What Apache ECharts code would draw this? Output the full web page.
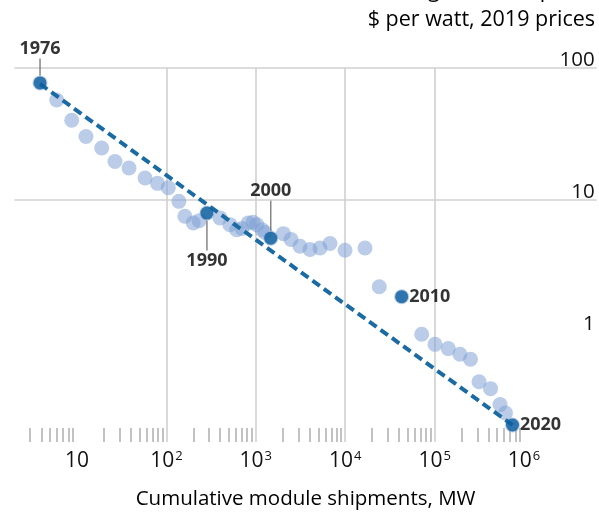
<!DOCTYPE html>
<html><head><meta charset="utf-8">
<script src="https://cdn.jsdelivr.net/npm/echarts@6/dist/echarts.min.js"></script>
<style>html,body{margin:0;padding:0;background:#fff}#c{width:599px;height:514px}</style>
</head><body><div id="c"></div>
<script>
// ---- data ----
const years = [1976,1977,1978,1979,1980,1981,1982,1983,1984,1985,1986,1987,1988,1989,1990,
  1991,1992,1993,1994,1995,1996,1997,1998,1999,2000,2001,2002,2003,2004,2005,2006,2007,2008,2009,2010,
  2011,2012,2013,2014,2015,2016,2017,2018,2019,2020];
const shipmentsMW = [3.86,5.93,8.73,12.6,18.9,26.6,38.2,57.7,79.5,105,138,161,200,232,284,
  398,514,611,701,824,930,1024,1173,1268,1469,2033,2478,3119,4036,5224,6761,9950,16650,24050,42800,
  71700,101000,142000,192000,252000,314000,422000,539000,621000,743000];
const pricesUSDperW = [77.1,57.3,40.2,30.3,24.8,19.6,17.5,14.7,13.4,12.4,9.8,7.55,6.73,7.0,7.98,
  7.34,6.53,5.98,6.1,6.73,6.82,6.53,5.98,5.69,5.16,5.58,5.04,4.48,4.23,4.35,4.70,4.18,4.35,2.21,1.86,
  0.966,0.811,0.753,0.682,0.625,0.423,0.375,0.284,0.245,0.199];
const highlightYears = [1976,1990,2000,2010,2020];
const trendShipmentsMW = [3.86, 743000];
const trendPricesUSDperW = [75.7, 0.199];
const xMajorTicks = [10,100,1000,10000,100000,1000000];
const xMinorMultipliers = [2,3,4,5,6,7,8,9];
const xMinorDecades = [1,10,100,1000,10000,100000];
const yMajorTicks = [1,10,100];
const titleLine1 = 'Average module price,';
const titleLine2 = '$ per watt, 2019 prices';
const xAxisTitle = 'Cumulative module shipments, MW';

// ---- build ----
const xMinorTicks = [];
xMinorDecades.forEach(d => xMinorMultipliers.forEach(m => { if (m * d >= 3) xMinorTicks.push(m * d); }));

const FONT = '"Open Sans", "Noto Sans", sans-serif';
const X_MIN = 2, X_MAX = 6.5e6, Y_MIN = 0.148, Y_MAX = 100;
const GRID = {left: 14.5, right: 2.3, top: 68, bottom: 72, containLabel: false, outerBoundsMode: 'none'};

const labelCfg = {
  1976: {fmt: '{t|1976}\n{s|}', position: 'top'},
  1990: {fmt: '{m|}\n{t|1990}', position: 'bottom'},
  2000: {fmt: '{t|2000}\n{m|}', position: 'top'},
  2010: {fmt: '{t|2010}', position: 'right'},
  2020: {fmt: '{t|2020}', position: 'right'}
};

const lightData = years.map((y, i) => [shipmentsMW[i], pricesUSDperW[i]]);
const hiData = highlightYears.map(yr => {
  const i = years.indexOf(yr);
  const c = labelCfg[yr];
  return {
    value: [shipmentsMW[i], pricesUSDperW[i]],
    label: {show: true, position: c.position, distance: 1, formatter: c.fmt}
  };
});
const trendData = trendShipmentsMW.map((x, i) => [x, trendPricesUSDperW[i]]);

const chart = echarts.init(document.getElementById('c'), null, {renderer: 'canvas'});
chart.setOption({
  animation: false,
  backgroundColor: '#fff',
  grid: [Object.assign({}, GRID), Object.assign({}, GRID)],
  graphic: [
    {type: 'text', x: 595, y: -8.8, silent: true,
     style: {text: titleLine1, font: '21.5px ' + FONT, fill: '#000', align: 'right', verticalAlign: 'middle'}},
    {type: 'text', x: 595, y: 20.2, silent: true,
     style: {text: titleLine2, font: '21.5px ' + FONT, fill: '#000', align: 'right', verticalAlign: 'middle'}}
  ],
  xAxis: [
    {
      type: 'log', logBase: 10, gridIndex: 0, min: X_MIN, max: X_MAX, position: 'bottom',
      axisLine: {show: false},
      axisTick: {show: false, customValues: xMajorTicks},
      splitLine: {show: true, showMinLine: false, showMaxLine: false, lineStyle: {color: '#d0d0d0', width: 1.6}},
      axisLabel: {
        show: true, customValues: xMajorTicks, margin: 8,
        formatter: v => { const k = Math.round(Math.log10(v)); return k === 1 ? '{b|10}' : '{b|10}{s|' + k + '}'; },
        rich: {
          b: {fontFamily: FONT, fontSize: 21, color: '#111', lineHeight: 22},
          s: {fontFamily: FONT, fontSize: 13, color: '#111', lineHeight: 14, verticalAlign: 'top', padding: [0, 0, 0, 1]}
        }
      },
      name: xAxisTitle, nameLocation: 'middle', nameGap: 47,
      nameTextStyle: {fontFamily: FONT, fontSize: 20.5, color: '#000'}
    },
    {
      type: 'log', logBase: 10, gridIndex: 1, min: X_MIN, max: X_MAX, position: 'bottom',
      axisLine: {show: false},
      axisTick: {show: true, inside: true, length: 14, customValues: xMinorTicks, lineStyle: {color: '#bcbcbc', width: 1.8}},
      axisLabel: {show: false},
      splitLine: {show: false}
    }
  ],
  yAxis: [
    {
      type: 'log', logBase: 10, gridIndex: 0, min: Y_MIN, max: Y_MAX, position: 'right',
      axisLine: {show: false},
      axisTick: {show: false, customValues: yMajorTicks},
      splitLine: {show: true, showMinLine: false, lineStyle: {color: '#d0d0d0', width: 1.6}},
      axisLabel: {
        show: true, inside: true, customValues: yMajorTicks, margin: 2,
        formatter: v => String(Math.round(v)),
        fontFamily: FONT, fontSize: 20.5, color: '#111', verticalAlign: 'bottom', lineHeight: 16
      }
    },
    {type: 'log', gridIndex: 1, min: Y_MIN, max: Y_MAX, show: false}
  ],
  series: [
    {
      type: 'scatter', xAxisIndex: 0, yAxisIndex: 0, data: lightData, symbolSize: 15, silent: true, z: 2,
      itemStyle: {color: 'rgba(128,160,212,0.68)'}
    },
    {
      type: 'line', xAxisIndex: 0, yAxisIndex: 0, data: trendData, symbol: 'none', silent: true, z: 3,
      lineStyle: {color: '#1a6aa3', width: 4, type: [9, 5]}
    },
    {
      type: 'scatter', xAxisIndex: 0, yAxisIndex: 0, data: hiData, symbolSize: 13, silent: true, z: 4,
      itemStyle: {color: '#0b5f9e'},
      label: {
        show: true,
        rich: {
          t: {fontFamily: FONT, fontSize: 18, fontWeight: 'bold', color: '#000', lineHeight: 20},
          s: {width: 1.5, height: 17, lineHeight: 17, backgroundColor: '#666'},
          m: {width: 1.5, height: 30, lineHeight: 30, backgroundColor: '#666'}
        }
      }
    }
  ]
});
</script>
</body></html>
